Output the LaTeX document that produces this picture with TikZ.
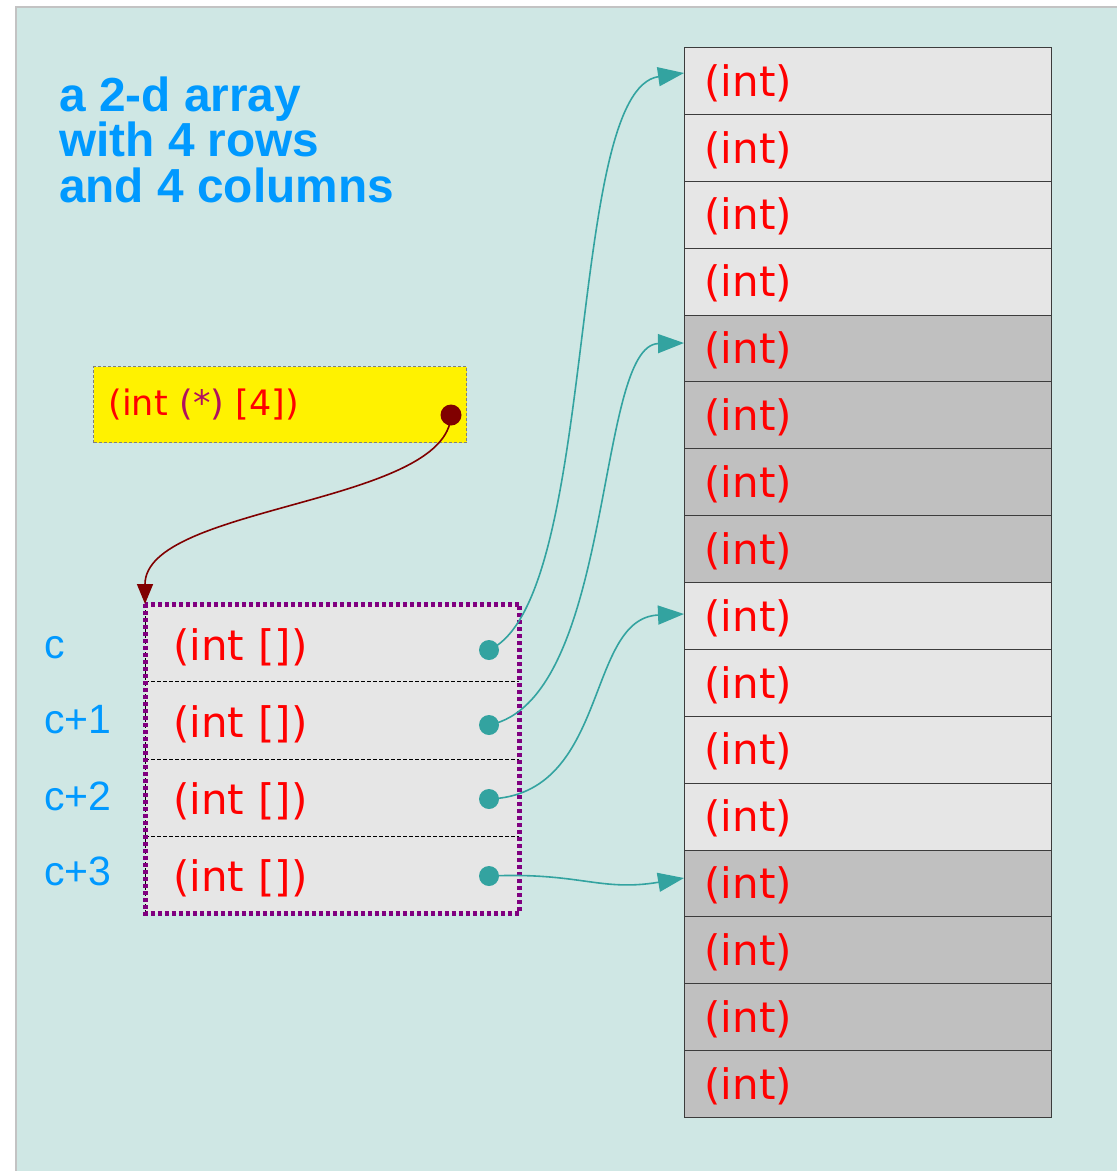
\documentclass[tikz,border=0pt]{standalone}
\usepackage{fontspec}
\setmainfont{DejaVu Sans}
\newfontfamily\arialfont{Liberation Sans}
\usetikzlibrary{arrows.meta,calc}
\definecolor{panelbg}{RGB}{207,231,228}
\definecolor{panelline}{RGB}{195,195,195}
\definecolor{titleblue}{RGB}{0,153,255}
\definecolor{txtred}{RGB}{255,0,0}
\definecolor{starcol}{RGB}{176,16,96}
\definecolor{lightcell}{RGB}{230,230,230}
\definecolor{darkcell}{RGB}{192,192,192}
\definecolor{tealc}{RGB}{51,163,160}
\definecolor{ptrred}{RGB}{128,0,0}
\definecolor{framepurple}{RGB}{128,0,128}
\definecolor{celledge}{RGB}{60,60,60}
\begin{document}
\begin{tikzpicture}[x=1pt,y=-1pt,
  cellbox/.style={draw=celledge, line width=1, minimum width=367, minimum height=66.875,
     inner xsep=20, inner ysep=0, text width=327, align=left, anchor=north west,
     text height=36, text depth=5.5,
     text=txtred, font=\fontsize{42}{42}\selectfont},
  ptrrow/.style={fill=lightcell, minimum width=374, minimum height=77.25,
     inner xsep=28, inner ysep=0, text width=318, align=left, anchor=north west,
     text height=40, text depth=5.5,
     text=txtred, font=\fontsize{42}{42}\selectfont},
  dotc/.style={circle, fill=tealc, minimum size=20, inner sep=0},
  idxlabel/.style={anchor=base west, inner sep=0, text=titleblue, font=\arialfont\fontsize{41}{41}\selectfont},
  tealarrow/.style={draw=tealc, line width=1.6, -{Triangle[length=26, width=19]}}
]
\useasboundingbox (0,0) rectangle (1117,1171);
\fill[white] (0,0) rectangle (1117,1171);
\draw[panelline, line width=1.2, fill=panelbg] (16,7) rectangle (1130,1185);

% title
\node[anchor=base west, inner sep=0, align=left, text=titleblue,
      font=\arialfont\bfseries\fontsize{47.8}{45.5}\selectfont] (title) at (59,202)
  {a 2-d array\\with 4 rows\\and 4 columns};

% yellow pointer box
\node[draw=gray, dash pattern=on 3 off 2, line width=1, fill=yellow, anchor=north west,
      minimum width=373, minimum height=76, inner xsep=15, inner ysep=0, text width=343,
      align=left, text=txtred, font=\fontsize{35}{35}\selectfont] (ptr) at (93,366)
  {(int \textcolor{starcol}{(*)} [4])};
\node[circle, fill=ptrred, minimum size=21, inner sep=0] (pdot) at (451,415) {};

% right array
\foreach \i in {0,...,15}{
  \pgfmathtruncatemacro{\grp}{mod(floor(\i/4),2)}
  \ifnum\grp=0 \def\cellfill{lightcell}\else\def\cellfill{darkcell}\fi
  \node[cellbox, fill=\cellfill] (r\i) at (684,{47+\i*66.875}) {(int)};
}

% left pointer array
\foreach \i in {0,...,3}{
  \node[ptrrow] (p\i) at (145,{604+\i*77.25}) {(int [])};
}
\foreach \i in {0,...,2}{
  \draw[black, line width=0.8, dash pattern=on 4 off 2] (p\i.south west) -- (p\i.south east);
}
\draw[black, line width=0.8, dash pattern=on 4 off 2] (p0.north west) -- (p3.south west);
\draw[framepurple, line width=5, dash pattern=on 4 off 3]
  (p0.north west) rectangle (p3.south east);

% index labels
\node[idxlabel] (l0) at (44,658) {c};
\node[idxlabel] (l1) at (44,733) {c+1};
\node[idxlabel] (l2) at (44,810) {c+2};
\node[idxlabel] (l3) at (44,885) {c+3};

% dots
\node[dotc] (d0) at (489,650) {};
\node[dotc] (d1) at (489,725) {};
\node[dotc] (d2) at (489,799) {};
\node[dotc] (d3) at (489,876) {};

% targets
\coordinate (t0) at (684,73);
\coordinate (t1) at (684,343);
\coordinate (t2) at (684,614);
\coordinate (t3) at (684,878);

\draw[tealarrow] (d0.center) .. controls (600,600) and (565,90) .. (t0);
\draw[tealarrow] (d1.center) .. controls (615,700) and (595,345) .. (t1);
\draw[tealarrow] (d2.center) .. controls (610,795) and (585,618) .. (t2);
\draw[tealarrow] (d3.center) .. controls (580,872) and (600,892) .. (t3);

% pointer arrow
\draw[ptrred, line width=1.6, -{Triangle[length=20, width=16]}]
  (pdot.center) .. controls (448,505) and (145,505) .. (p0.north west);
\end{tikzpicture}
\end{document}
